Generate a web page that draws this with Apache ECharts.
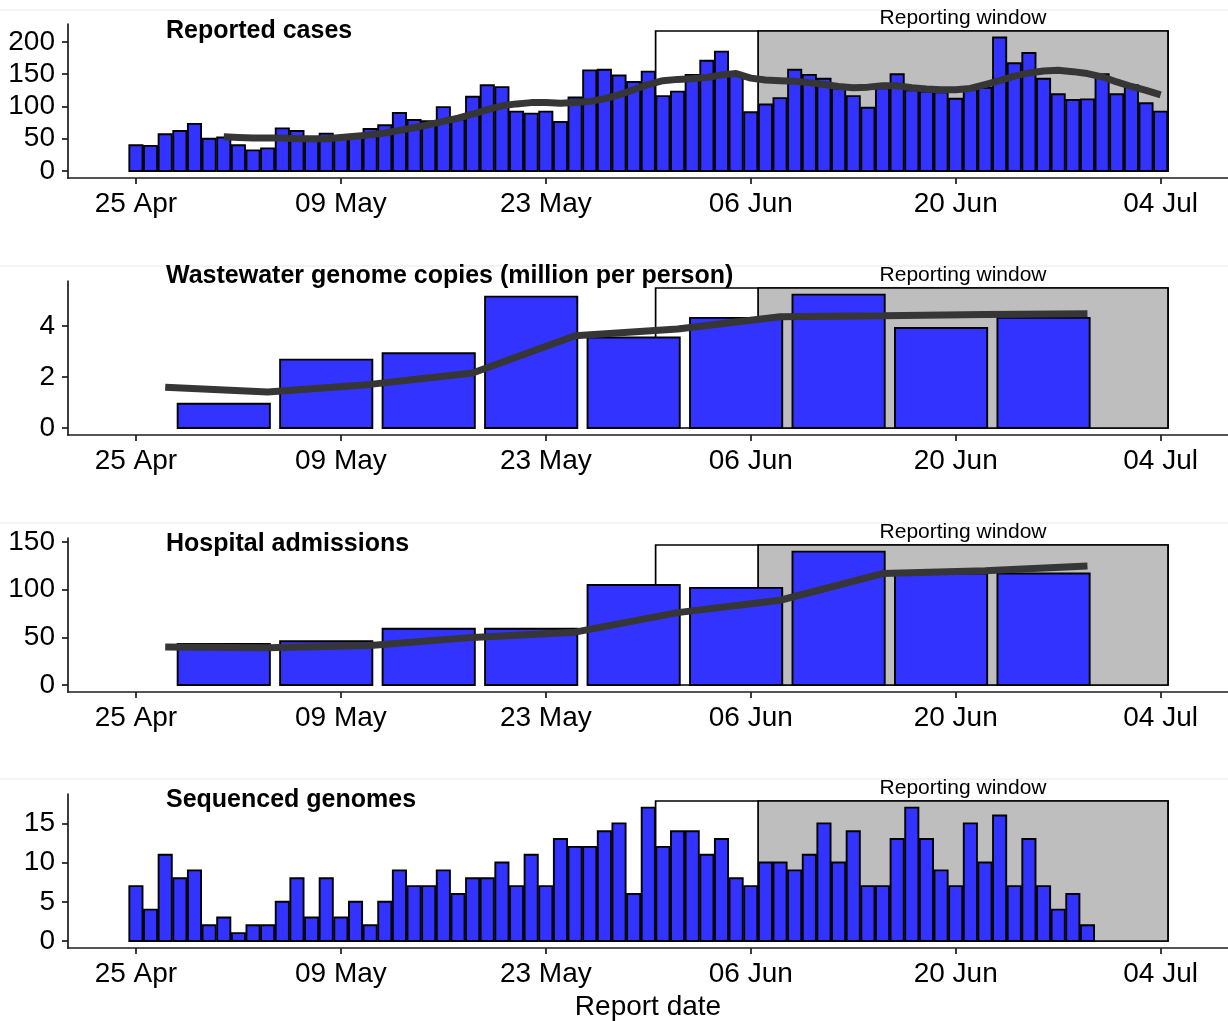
<!DOCTYPE html>
<html>
<head>
<meta charset="utf-8">
<script src="https://cdn.jsdelivr.net/npm/echarts@6/dist/echarts.min.js"></script>
<style>
  html, body { margin: 0; padding: 0; background: #ffffff; }
  #chart { width: 1228px; height: 1021px; }
</style>
</head>
<body>
<div id="chart"></div>
<script>
// Horizontal positions are days after 25 April (report date).
const tickDays = [0, 14, 28, 42, 56, 70];
const tickLabels = ['25 Apr', '09 May', '23 May', '06 Jun', '20 Jun', '04 Jul'];

// Reported cases, one bar per day from 25 Apr to 04 Jul.
const caseValues = [
  40, 39, 57, 62, 73, 50, 52, 40, 32, 35,
  66, 62, 50, 58, 50, 52, 65, 71, 90, 79,
  77, 99, 80, 115, 133, 130, 92, 89, 92, 76,
  114, 156, 157, 148, 138, 154, 116, 123, 149, 171,
  185, 148, 91, 103, 113, 157, 149, 143, 128, 116,
  98, 128, 150, 125, 123, 122, 112, 126, 129, 207,
  167, 183, 143, 119, 110, 111, 150, 119, 133, 105,
  92
];
// Smoothed case trend, one point per day starting 01 May.
const caseTrendStart = 6;
const caseTrend = [
  53, 52, 51, 51, 51, 50, 50, 50, 52, 54,
  56, 59, 63, 67, 72, 77, 82, 88, 95, 101,
  104, 106, 106, 105, 106, 108, 112, 118, 126, 134,
  140, 142, 143, 145, 149, 151, 144, 141, 140, 139,
  137, 134, 131, 129, 130, 132, 132, 129, 127, 126,
  126, 128, 134, 140, 147, 152, 155, 156, 154, 151,
  146, 138, 131, 125, 118
];

// Weekly series: bar centres and trend points.
const weekDays = [6, 13, 20, 27, 34, 41, 48, 55, 62];
const trendDays = [2, 9, 16, 23, 30, 37, 44, 51, 58, 65];
const wastewater = [0.95, 2.68, 2.93, 5.15, 3.55, 4.32, 5.23, 3.92, 4.32];
const wastewaterTrend = [1.6, 1.41, 1.71, 2.16, 3.62, 3.88, 4.36, 4.40, 4.45, 4.48];
const hospital = [43, 46, 59, 59, 105, 102, 140, 117, 117];
const hospitalTrend = [40, 39, 41.5, 50, 55.5, 76, 89, 117, 120, 125];

// Sequenced genomes, one bar per day from 25 Apr to 30 Jun.
const genomes = [
  7, 4, 11, 8, 9, 2, 3, 1, 2, 2,
  5, 8, 3, 8, 3, 5, 2, 5, 9, 7,
  7, 9, 6, 8, 8, 10, 7, 11, 7, 13,
  12, 12, 14, 15, 6, 17, 12, 14, 14, 11,
  13, 8, 7, 10, 10, 9, 11, 15, 10, 14,
  7, 7, 13, 17, 13, 9, 7, 15, 10, 16,
  7, 13, 7, 4, 6, 2
];

// Reporting window edges (white week, then grey four weeks) and box heights.
const windowEdges = [35.5, 42.5, 70.5];
const windowTops = [217, 5.49, 147, 17.85];

const panelTitles = [
  'Reported cases',
  'Wastewater genome copies (million per person)',
  'Hospital admissions',
  'Sequenced genomes'
];
const yTicks = [
  [0, 50, 100, 150, 200],
  [0, 2, 4],
  [0, 50, 100, 150],
  [0, 5, 10, 15]
];

const FONT = "'Liberation Sans', Arial, Helvetica, sans-serif";
const BAR_FILL = '#3333ff';
const INK = '#000000';
const AXIS = '#1c1c1c';
const TREND = '#363636';

const gridTops = [24, 281, 538, 794];
const titleCentres = [31, 276, 544, 800];
const panelSeparators = [9, 265, 522, 778];
const gridHeight = 154;
const xMin = -4.64, xMax = 74.6;

function dailyPairs(values, start) {
  return values.map((v, i) => [start + i, v]);
}
function pairs(days, values) {
  return values.map((v, i) => [days[i], v]);
}

function barRenderer(halfWidth) {
  return function (params, api) {
    const x = api.value(0);
    const v = api.value(1);
    const a = api.coord([x - halfWidth, v]);
    const b = api.coord([x + halfWidth, 0]);
    return {
      type: 'rect',
      shape: { x: a[0], y: a[1], width: b[0] - a[0], height: b[1] - a[1] },
      style: { fill: BAR_FILL, stroke: INK, lineWidth: 1.9 }
    };
  };
}

function windowRenderer(params, api) {
  const a = api.coord([api.value(0), api.value(2)]);
  const b = api.coord([api.value(1), 0]);
  const isGrey = params.dataIndex === 1;
  const box = {
    type: 'rect',
    shape: { x: a[0], y: a[1], width: b[0] - a[0], height: b[1] - a[1] },
    style: { fill: isGrey ? '#bebebe' : '#ffffff', stroke: INK, lineWidth: 1.7 }
  };
  if (!isGrey) return box;
  return {
    type: 'group',
    children: [
      box,
      {
        type: 'text',
        x: (a[0] + b[0]) / 2,
        y: a[1] - 13,
        style: {
          text: 'Reporting window',
          fill: INK,
          fontSize: 21,
          fontFamily: FONT,
          align: 'center',
          verticalAlign: 'middle',
          textAlign: 'center',
          textVerticalAlign: 'middle'
        }
      }
    ]
  };
}

const grids = [], xAxes = [], yAxes = [], series = [], graphics = [];

const barSets = [
  { data: dailyPairs(caseValues, 0), half: 0.45 },
  { data: pairs(weekDays, wastewater), half: 3.15 },
  { data: pairs(weekDays, hospital), half: 3.15 },
  { data: dailyPairs(genomes, 0), half: 0.45 }
];
const trendSets = [
  dailyPairs(caseTrend, caseTrendStart),
  pairs(trendDays, wastewaterTrend),
  pairs(trendDays, hospitalTrend),
  null
];

// faint strip at the top of each panel
panelSeparators.forEach(y => {
  graphics.push({
    type: 'rect',
    z: -1,
    shape: { x: 0, y: y, width: 1228, height: 2 },
    style: { fill: '#f4f4f4' }
  });
});

for (let i = 0; i < 4; i++) {
  const top = windowTops[i];
  grids.push({ left: 68, right: 0, top: gridTops[i], height: gridHeight, containLabel: false });

  xAxes.push({
    gridIndex: i,
    type: 'value',
    min: xMin,
    max: xMax,
    axisLine: { show: true, onZero: false, lineStyle: { color: AXIS, width: 1.7 } },
    axisTick: { show: true, length: 6, customValues: tickDays, lineStyle: { color: AXIS, width: 1.7 } },
    axisLabel: {
      customValues: tickDays,
      formatter: v => tickLabels[tickDays.indexOf(v)] || '',
      fontSize: 28,
      fontFamily: FONT,
      color: INK,
      margin: 12
    },
    splitLine: { show: false }
  });

  yAxes.push({
    gridIndex: i,
    type: 'value',
    min: -0.05 * top,
    max: 1.05 * top,
    axisLine: { show: true, onZero: false, lineStyle: { color: AXIS, width: 1.7 } },
    axisTick: { show: true, length: 6, customValues: yTicks[i], lineStyle: { color: AXIS, width: 1.7 } },
    axisLabel: {
      customValues: yTicks[i],
      fontSize: 28,
      fontFamily: FONT,
      color: INK,
      margin: 13
    },
    splitLine: { show: false }
  });

  series.push({
    type: 'custom',
    xAxisIndex: i,
    yAxisIndex: i,
    z: 1,
    silent: true,
    renderItem: windowRenderer,
    data: [
      [windowEdges[0], windowEdges[2], top],
      [windowEdges[1], windowEdges[2], top]
    ]
  });

  series.push({
    type: 'custom',
    xAxisIndex: i,
    yAxisIndex: i,
    z: 2,
    renderItem: barRenderer(barSets[i].half),
    data: barSets[i].data
  });

  if (trendSets[i]) {
    series.push({
      type: 'line',
      xAxisIndex: i,
      yAxisIndex: i,
      z: 3,
      data: trendSets[i],
      showSymbol: false,
      symbol: 'none',
      lineStyle: { color: TREND, width: 7, cap: 'butt' }
    });
  }

  graphics.push({
    type: 'text',
    x: 166,
    y: titleCentres[i],
    z: 10,
    style: {
      text: panelTitles[i],
      fill: INK,
      fontSize: 25,
      fontWeight: 'bold',
      fontFamily: FONT,
      align: 'left',
      verticalAlign: 'middle'
    }
  });
}

graphics.push({
  type: 'text',
  x: 648,
  y: 1007,
  style: {
    text: 'Report date',
    fill: INK,
    fontSize: 28,
    fontFamily: FONT,
    align: 'center',
    verticalAlign: 'middle'
  }
});

const chart = echarts.init(document.getElementById('chart'), null, { renderer: 'canvas' });
chart.setOption({
  animation: false,
  backgroundColor: '#ffffff',
  grid: grids,
  xAxis: xAxes,
  yAxis: yAxes,
  series: series,
  graphic: graphics
});
</script>
</body>
</html>
